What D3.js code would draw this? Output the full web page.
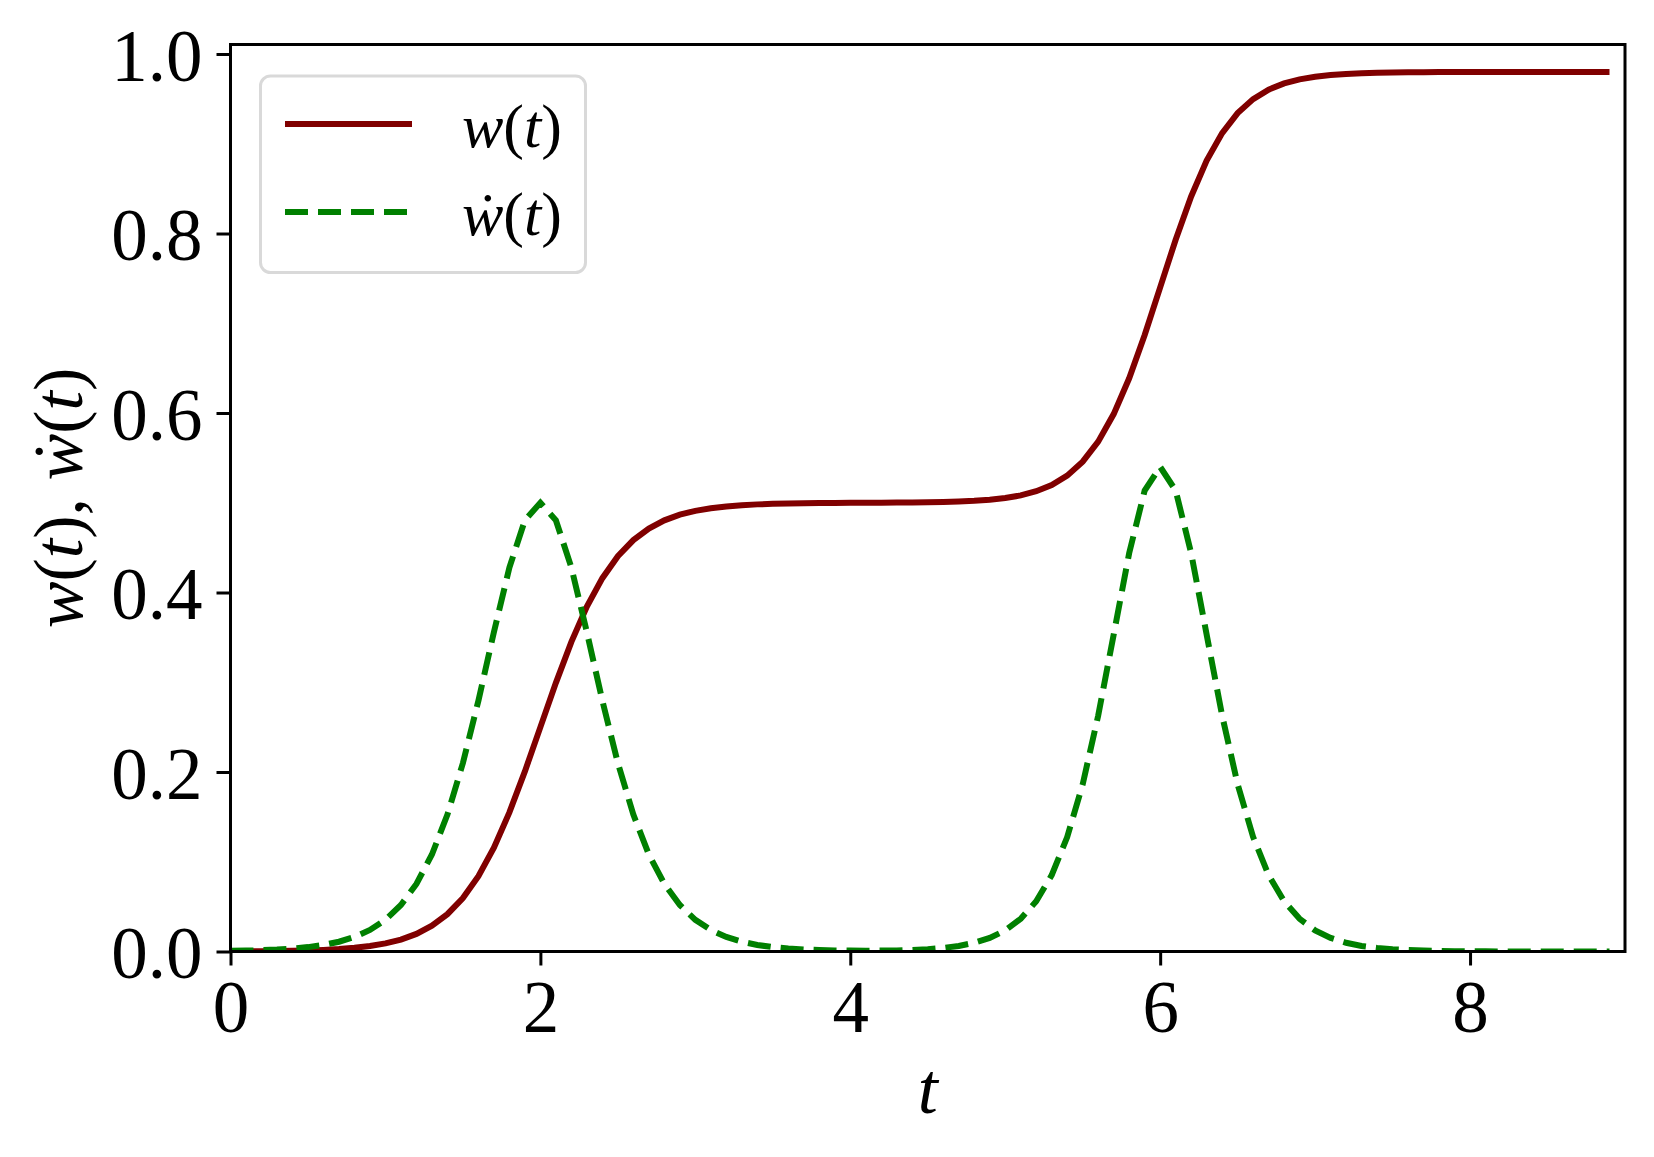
<!DOCTYPE html>
<html>
<head>
<meta charset="utf-8">
<script src="https://cdn.jsdelivr.net/npm/d3@7"></script>
<style>
  body { margin: 0; background: #fff; }
  svg { display: block; }
  text { font-family: "Liberation Serif", "Times New Roman", Times, serif; }
</style>
</head>
<body>
<svg width="1654" height="1157"></svg>
<script>
// sample times (step 0.1)
const tValues = [
  0.0, 0.1, 0.2, 0.3, 0.4, 0.5, 0.6, 0.7, 0.8, 0.9,
  1.0, 1.1, 1.2, 1.3, 1.4, 1.5, 1.6, 1.7, 1.8, 1.9,
  2.0, 2.1, 2.2, 2.3, 2.4, 2.5, 2.6, 2.7, 2.8, 2.9,
  3.0, 3.1, 3.2, 3.3, 3.4, 3.5, 3.6, 3.7, 3.8, 3.9,
  4.0, 4.1, 4.2, 4.3, 4.4, 4.5, 4.6, 4.7, 4.8, 4.9,
  5.0, 5.1, 5.2, 5.3, 5.4, 5.5, 5.6, 5.7, 5.8, 5.9,
  6.0, 6.1, 6.2, 6.3, 6.4, 6.5, 6.6, 6.7, 6.8, 6.9,
  7.0, 7.1, 7.2, 7.3, 7.4, 7.5, 7.6, 7.7, 7.8, 7.9,
  8.0, 8.1, 8.2, 8.3, 8.4, 8.5, 8.6, 8.7, 8.8, 8.9
];
// w(t)
const wValues = [
  0.0002, 0.0003, 0.0004, 0.0006, 0.0008, 0.0012, 0.0018, 0.0027, 0.0041, 0.0061,
  0.0090, 0.0133, 0.0196, 0.0287, 0.0416, 0.0596, 0.0840, 0.1157, 0.1550, 0.2007,
  0.2500, 0.2993, 0.3450, 0.3843, 0.4160, 0.4404, 0.4584, 0.4713, 0.4804, 0.4867,
  0.4910, 0.4939, 0.4959, 0.4973, 0.4982, 0.4988, 0.4992, 0.4995, 0.4997, 0.4998,
  0.4999, 0.5000, 0.5001, 0.5002, 0.5003, 0.5005, 0.5009, 0.5014, 0.5022, 0.5034,
  0.5053, 0.5082, 0.5128, 0.5197, 0.5302, 0.5458, 0.5681, 0.5988, 0.6387, 0.6869,
  0.7400, 0.7931, 0.8413, 0.8812, 0.9119, 0.9342, 0.9498, 0.9603, 0.9672, 0.9718,
  0.9747, 0.9766, 0.9778, 0.9786, 0.9791, 0.9794, 0.9796, 0.9798, 0.9799, 0.9799,
  0.9799, 0.9800, 0.9800, 0.9800, 0.9800, 0.9800, 0.9800, 0.9800, 0.9800, 0.9800
];
// dw/dt
const wDotValues = [
  0.0007, 0.0010, 0.0015, 0.0022, 0.0033, 0.0049, 0.0073, 0.0109, 0.0162, 0.0240,
  0.0353, 0.0518, 0.0753, 0.1081, 0.1525, 0.2100, 0.2795, 0.3558, 0.4278, 0.4805,
  0.5000, 0.4805, 0.4278, 0.3558, 0.2795, 0.2100, 0.1525, 0.1081, 0.0753, 0.0518,
  0.0353, 0.0240, 0.0162, 0.0109, 0.0073, 0.0049, 0.0033, 0.0023, 0.0016, 0.0012,
  0.0010, 0.0009, 0.0010, 0.0012, 0.0018, 0.0026, 0.0040, 0.0062, 0.0097, 0.0151,
  0.0235, 0.0364, 0.0559, 0.0851, 0.1275, 0.1863, 0.2629, 0.3531, 0.4439, 0.5136,
  0.5400, 0.5136, 0.4439, 0.3531, 0.2629, 0.1863, 0.1275, 0.0851, 0.0559, 0.0364,
  0.0235, 0.0151, 0.0097, 0.0062, 0.0040, 0.0025, 0.0016, 0.0010, 0.0007, 0.0004,
  0.0003, 0.0002, 0.0001, 0.0001, 0.0000, 0.0000, 0.0000, 0.0000, 0.0000, 0.0000
];
const xTicks = [0, 2, 4, 6, 8];
const yTicks = [0.0, 0.2, 0.4, 0.6, 0.8, 1.0];

const serif = '"Liberation Serif", "Times New Roman", Times, serif';
const svg = d3.select("svg"),
  margin = { left: 230.5, right: 29, top: 44.5, bottom: 205.5 },
  width = +svg.attr("width") - margin.left - margin.right,
  height = +svg.attr("height") - margin.top - margin.bottom,
  fontSize = 73;

const x = d3.scaleLinear().domain([0, 9]).range([0, width]);
const y = d3.scaleLinear().domain([0, 1.0106]).range([height, 0]);

const g = svg.append("g").attr("transform", `translate(${margin.left},${margin.top})`);

svg.append("defs").append("clipPath").attr("id", "clip")
  .append("rect").attr("width", width).attr("height", height);

//curves
const rows = tValues.map((t, i) => ({ t: t, w: wValues[i], wd: wDotValues[i] }));
const lineW = d3.line().x((d) => x(d.t)).y((d) => y(d.w));
const lineWd = d3.line().x((d) => x(d.t)).y((d) => y(d.wd));

const plot = g.append("g").attr("clip-path", "url(#clip)");
plot.append("path").datum(rows)
  .attr("d", lineW)
  .attr("fill", "none")
  .attr("stroke", "#800000")
  .attr("stroke-width", 6);
plot.append("path").datum(rows)
  .attr("d", lineWd)
  .attr("fill", "none")
  .attr("stroke", "#008000")
  .attr("stroke-width", 6)
  .attr("stroke-dasharray", "23,10");

//axes
const xAxis = g.append("g")
  .attr("transform", `translate(0,${height})`)
  .call(d3.axisBottom(x).tickValues(xTicks).tickFormat(d3.format("d"))
    .tickSize(14).tickSizeOuter(0).tickPadding(15));
const yAxis = g.append("g")
  .call(d3.axisLeft(y).tickValues(yTicks).tickFormat(d3.format(".1f"))
    .tickSize(14).tickSizeOuter(0).tickPadding(14));

[xAxis, yAxis].forEach((a) => {
  a.attr("font-family", null).attr("font-size", null);
  a.select(".domain").remove();
  a.selectAll(".tick line").attr("stroke", "#000").attr("stroke-width", 3);
  a.selectAll(".tick text")
    .attr("fill", "#000")
    .style("font-family", serif)
    .style("font-size", fontSize + "px");
});
yAxis.selectAll(".tick text").attr("dy", "0.36em");

// frame
g.append("rect")
  .attr("width", width)
  .attr("height", height)
  .attr("fill", "none")
  .attr("stroke", "#000")
  .attr("stroke-width", 3);

// math-like text helper
const mathText = (sel, parts) => {
  parts.forEach((p) => {
    const ts = sel.append("tspan").text(p.s);
    if (p.i) ts.attr("font-style", "italic");
  });
};
const wParts = [{ s: "w", i: true }, { s: "(" }, { s: "t", i: true }, { s: ")" }];
const wdParts = [{ s: "\u1E87", i: true }, { s: "(" }, { s: "t", i: true }, { s: ")" }];

// x label
g.append("text")
  .attr("x", width / 2)
  .attr("y", height + 161)
  .attr("text-anchor", "middle")
  .style("font-family", serif)
  .style("font-size", "72px")
  .attr("font-style", "italic")
  .text("t");

// y label
const yl = svg.append("text")
  .attr("transform", `translate(82,${margin.top + height / 2}) rotate(-90)`)
  .attr("text-anchor", "middle")
  .style("font-family", serif)
  .style("font-size", "70px");
mathText(yl, wParts.concat([{ s: ", " }], wdParts));

// legend
const legend = svg.append("g");
legend.append("rect")
  .attr("x", 260.5).attr("y", 76)
  .attr("width", 325).attr("height", 196.5)
  .attr("rx", 10)
  .attr("fill", "#fff").attr("fill-opacity", 0.8)
  .attr("stroke", "#d9d9d9").attr("stroke-width", 3);

const legendItems = [
  { parts: wParts, color: "#800000", dash: null, y: 124 },
  { parts: wdParts, color: "#008000", dash: "23,10", y: 212 }
];
legendItems.forEach((it) => {
  legend.append("line")
    .attr("x1", 285).attr("x2", 412)
    .attr("y1", it.y).attr("y2", it.y)
    .attr("stroke", it.color)
    .attr("stroke-width", 6)
    .attr("stroke-dasharray", it.dash);
  const tx = legend.append("text")
    .attr("x", 462).attr("y", it.y + 23)
    .style("font-family", serif)
    .style("font-size", "62px");
  mathText(tx, it.parts);
});
</script>
</body>
</html>
